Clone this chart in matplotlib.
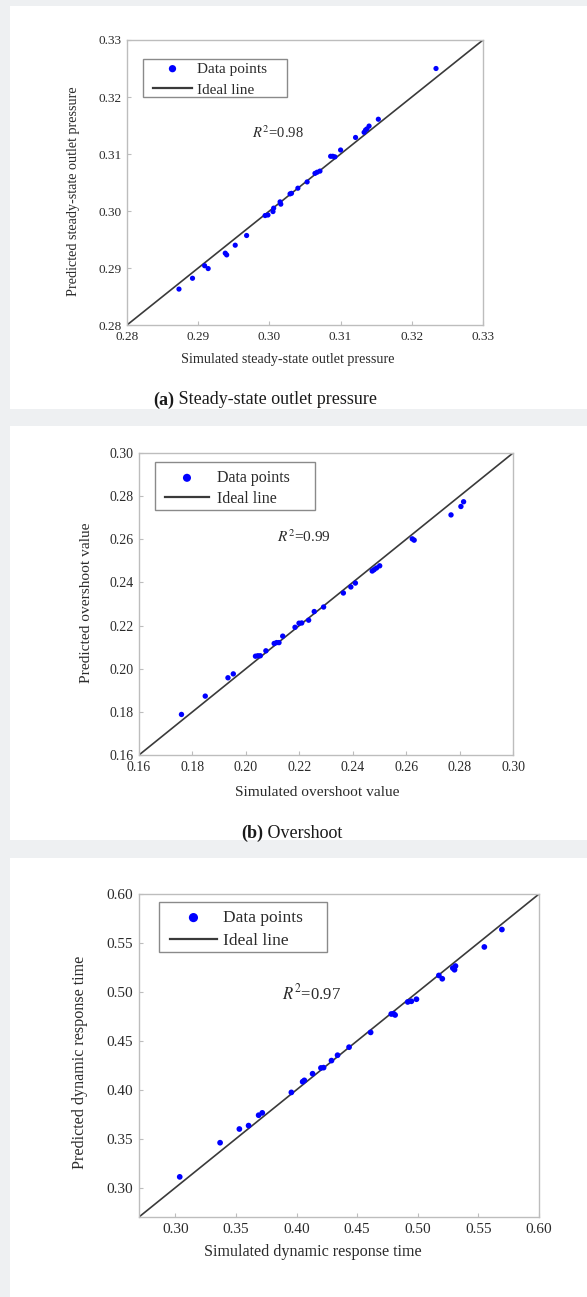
import matplotlib
matplotlib.use("Agg")
import matplotlib.pyplot as plt
from matplotlib.patches import Rectangle

plt.rcParams["mathtext.fontset"] = "stix"

# ---------------- data ----------------
# (a) steady-state outlet pressure
sim_a = [0.2873, 0.2892, 0.2909, 0.2914, 0.2938, 0.2940, 0.2952, 0.2968, 0.2994, 0.2998,
         0.3005, 0.3006, 0.3015, 0.3016, 0.3029, 0.3031, 0.3040, 0.3053, 0.3064, 0.3067,
         0.3071, 0.3086, 0.3089, 0.3092, 0.3100, 0.3121, 0.3133, 0.3135, 0.3137, 0.3140,
         0.3153, 0.3234]
pred_a = [0.2863, 0.2882, 0.2904, 0.2899, 0.2926, 0.2923, 0.2940, 0.2957, 0.2992, 0.2993,
          0.2999, 0.3005, 0.3016, 0.3012, 0.3030, 0.3031, 0.3040, 0.3051, 0.3066, 0.3068,
          0.3070, 0.3096, 0.3096, 0.3095, 0.3107, 0.3129, 0.3138, 0.3142, 0.3144, 0.3149,
          0.3161, 0.3250]
# (b) overshoot
sim_b = [0.1759, 0.1848, 0.1933, 0.1953, 0.2036, 0.2045, 0.2054, 0.2075, 0.2106, 0.2115,
         0.2124, 0.2138, 0.2184, 0.2199, 0.2209, 0.2235, 0.2256, 0.2291, 0.2365, 0.2393,
         0.2410, 0.2473, 0.2480, 0.2489, 0.2501, 0.2623, 0.2630, 0.2768, 0.2805, 0.2815]
pred_b = [0.1788, 0.1873, 0.1958, 0.1976, 0.2058, 0.2060, 0.2060, 0.2083, 0.2117, 0.2121,
          0.2121, 0.2151, 0.2192, 0.2211, 0.2212, 0.2225, 0.2265, 0.2286, 0.2351, 0.2379,
          0.2397, 0.2453, 0.2459, 0.2467, 0.2477, 0.2602, 0.2596, 0.2713, 0.2752, 0.2774]
# (c) dynamic response time
sim_c = [0.3036, 0.3369, 0.3528, 0.3604, 0.3687, 0.3717, 0.3957, 0.4050, 0.4064, 0.4132,
         0.4201, 0.4223, 0.4288, 0.4338, 0.4433, 0.4611, 0.4781, 0.4800, 0.4813, 0.4917,
         0.4947, 0.4989, 0.5174, 0.5202, 0.5289, 0.5303, 0.5311, 0.5549, 0.5694]
pred_c = [0.3110, 0.3459, 0.3599, 0.3634, 0.3740, 0.3764, 0.3973, 0.4082, 0.4096, 0.4164,
          0.4223, 0.4226, 0.4298, 0.4353, 0.4435, 0.4586, 0.4774, 0.4777, 0.4764, 0.4897,
          0.4904, 0.4925, 0.5168, 0.5134, 0.5243, 0.5226, 0.5264, 0.5459, 0.5637]

lim_a = [0.28, 0.33]
lim_b = [0.16, 0.30]
lim_c = [0.27, 0.60]
ticks_a = [0.28, 0.29, 0.30, 0.31, 0.32, 0.33]
ticks_b = [0.16, 0.18, 0.20, 0.22, 0.24, 0.26, 0.28, 0.30]
ticks_c = [0.30, 0.35, 0.40, 0.45, 0.50, 0.55, 0.60]

r2_labels = ["0.98", "0.99", "0.97"]
xlabels = ["Simulated steady-state outlet pressure", "Simulated overshoot value",
           "Simulated dynamic response time"]
ylabels = ["Predicted steady-state outlet pressure", "Predicted overshoot value",
           "Predicted dynamic response time"]
captions = [("(a)", " Steady-state outlet pressure"), ("(b)", " Overshoot")]

# ---------------- layout ----------------
W, H = 587, 1297
fig = plt.figure(figsize=(W / 100, H / 100), dpi=100, facecolor="#eef0f2")

SERIF = ["Liberation Serif", "DejaVu Serif"]
TXT = "#2b2b2b"
SPINE = "#bdbdbd"


def fx(x):
    return x / W


def fy(y):
    return 1 - y / H


# white panels
for (top, bot) in [(6, 409), (426, 840), (858, 1297)]:
    fig.patches.append(Rectangle((fx(10), fy(bot)), fx(W - 10), (bot - top) / H,
                                 transform=fig.transFigure, facecolor="white",
                                 edgecolor="none", zorder=-10))

panels = [
    dict(box=(127, 40, 483, 325), sim=sim_a, pred=pred_a, lim=lim_a, ticks=ticks_a,
         tfs=9.5, lfs=10.2, legfs=11, r2=(278, 133), r2fs=10.5,
         xl=(288, 360), yl=(73, 191), ms=14,
         frame=(143, 59, 287, 97), hleft=153, htop=62, hlen=2.55, hpad=0.3,
         lsp=0.48, mscale=1.4),
    dict(box=(139, 453, 513, 755), sim=sim_b, pred=pred_b, lim=lim_b, ticks=ticks_b,
         tfs=10, lfs=11.1, legfs=11.5, r2=(304, 537), r2fs=11,
         xl=(317, 792), yl=(87, 603), ms=15,
         frame=(155, 462, 315, 510), hleft=165, htop=470, hlen=2.75, hpad=0.5,
         lsp=0.31, mscale=1.5),
    dict(box=(139, 894, 539, 1217), sim=sim_c, pred=pred_c, lim=lim_c, ticks=ticks_c,
         tfs=11, lfs=11.6, legfs=12.5, r2=(311, 993), r2fs=12,
         xl=(313, 1252), yl=(80, 1062), ms=17,
         frame=(159, 902, 327, 952), hleft=170, htop=910, hlen=2.7, hpad=0.35,
         lsp=0.41, mscale=1.6),
]

for i, p in enumerate(panels):
    l, t, r, b = p["box"]
    ax = fig.add_axes([fx(l), fy(b), (r - l) / W, (b - t) / H], zorder=5)
    ax.set_facecolor("white")
    lo, hi = p["lim"]
    ax.plot(p["lim"], p["lim"], color="#3a3a3a", lw=1.2, label="Ideal line", zorder=2)
    ax.scatter(p["sim"], p["pred"], s=p["ms"], color="#0000ff", edgecolors="none",
               label="Data points", zorder=3)
    ax.set_xlim(lo, hi)
    ax.set_ylim(lo, hi)
    ax.set_xticks(p["ticks"])
    ax.set_yticks(p["ticks"])
    ax.set_xticklabels([f"{v:.2f}" for v in p["ticks"]])
    ax.set_yticklabels([f"{v:.2f}" for v in p["ticks"]])
    ax.tick_params(direction="in", length=3, width=0.8, color=SPINE, labelcolor=TXT,
                   labelsize=p["tfs"], pad=4)
    for tl in ax.get_xticklabels() + ax.get_yticklabels():
        tl.set_family(SERIF)
    for sp in ax.spines.values():
        sp.set_color(SPINE)
        sp.set_linewidth(1.0)

    # legend frame (drawn in axes fraction coordinates)
    f0, f1, f2, f3 = p["frame"]
    ax.add_patch(Rectangle(((f0 - l) / (r - l), 1 - (f3 - t) / (b - t)),
                           (f2 - f0) / (r - l), (f3 - f1) / (b - t),
                           transform=ax.transAxes, facecolor="white",
                           edgecolor="#8a8a8a", lw=1.0, zorder=6))
    handles, labels = ax.get_legend_handles_labels()
    leg = ax.legend([handles[1], handles[0]], [labels[1], labels[0]],
                    loc="upper left",
                    bbox_to_anchor=((p["hleft"] - l) / (r - l), 1 - (p["htop"] - t) / (b - t)),
                    borderaxespad=0, frameon=False,
                    prop={"family": SERIF, "size": p["legfs"]},
                    handlelength=p["hlen"], handletextpad=p["hpad"],
                    labelspacing=p["lsp"], borderpad=0, markerscale=p["mscale"])
    leg.set_zorder(7)
    for txt in leg.get_texts():
        txt.set_color(TXT)
    for ln in leg.get_lines():
        ln.set_linewidth(1.6)

    # R^2 annotation
    rx, ry = p["r2"]
    fig.text(fx(rx), fy(ry), r"$R^2$=" + r2_labels[i], ha="center", va="center",
             fontsize=p["r2fs"], family=SERIF, color=TXT, zorder=10)

    # axis labels
    xx, xy = p["xl"]
    fig.text(fx(xx), fy(xy), xlabels[i], ha="center", va="center",
             fontsize=p["lfs"], family=SERIF, color=TXT)
    yx, yy = p["yl"]
    fig.text(fx(yx), fy(yy), ylabels[i], ha="center", va="center", rotation=90,
             fontsize=p["lfs"], family=SERIF, color=TXT)

# captions: bold tag followed by regular text, centred as a whole
renderer = fig.canvas.get_renderer()
cap_pos = [(265, 400), (292, 833)]
for (tag, rest), (cx, cy) in zip(captions, cap_pos):
    t1 = fig.text(0, fy(cy), tag, ha="left", va="center", fontsize=13,
                  family=SERIF, fontweight="bold", color="#1a1a1a")
    t2 = fig.text(0, fy(cy), rest, ha="left", va="center", fontsize=13,
                  family=SERIF, color="#1a1a1a")
    w1 = t1.get_window_extent(renderer).width
    w2 = t2.get_window_extent(renderer).width
    x0 = cx - (w1 + w2) / 2
    t1.set_x(fx(x0))
    t2.set_x(fx(x0 + w1))

fig.savefig("out.png", dpi=100, facecolor=fig.get_facecolor())
